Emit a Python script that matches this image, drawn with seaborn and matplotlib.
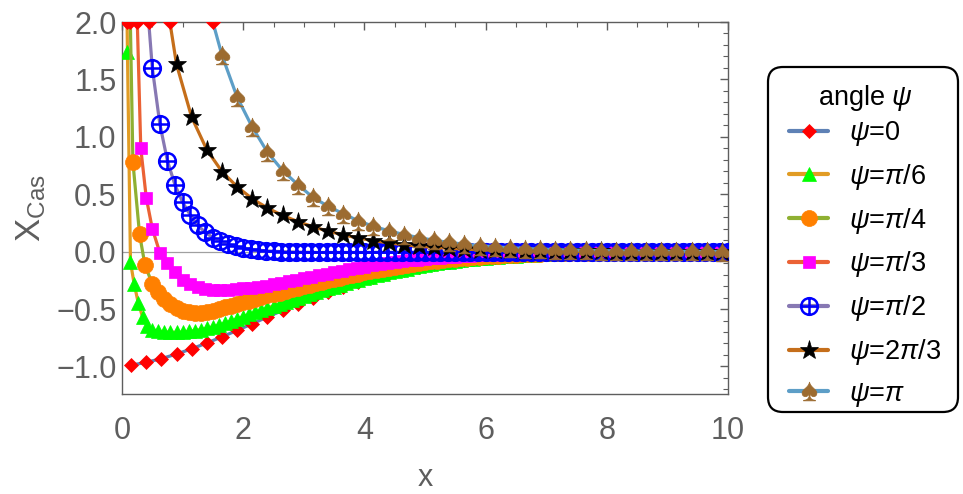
import numpy as np
import pandas as pd
import matplotlib
matplotlib.use("Agg")
import matplotlib.pyplot as plt
from matplotlib.path import Path
from matplotlib.lines import Line2D
from matplotlib.patches import FancyBboxPatch
import seaborn as sns

# ---------------- data ----------------
X_COARSE = [0.15, 0.40, 0.65, 0.90, 1.15, 1.40, 1.65, 1.90, 2.15, 2.40,
            2.65, 2.90, 3.15, 3.40, 3.65, 3.90, 4.15, 4.40, 4.65, 4.90,
            5.15, 5.40, 5.65, 5.90, 6.15, 6.40, 6.65, 6.90, 7.15, 7.40,
            7.65, 7.90, 8.15, 8.40, 8.65, 8.90, 9.15, 9.40, 9.65, 9.90]

X_MED = [0.5, 0.625, 0.75, 0.875,
         1.0, 1.125, 1.25, 1.375, 1.5, 1.625, 1.75, 1.875,
         2.0, 2.125, 2.25, 2.375, 2.5, 2.625, 2.75, 2.875,
         3.0, 3.125, 3.25, 3.375, 3.5, 3.625, 3.75, 3.875,
         4.0, 4.125, 4.25, 4.375, 4.5, 4.625, 4.75, 4.875,
         5.0, 5.125, 5.25, 5.375, 5.5, 5.625, 5.75, 5.875,
         6.0, 6.125, 6.25, 6.375, 6.5, 6.625, 6.75, 6.875,
         7.0, 7.125, 7.25, 7.375, 7.5, 7.625, 7.75, 7.875,
         8.0, 8.125, 8.25, 8.375, 8.5, 8.625, 8.75, 8.875,
         9.0, 9.125, 9.25, 9.375, 9.5, 9.625, 9.75, 9.875,
         10.0]

X_FINE = [0.5, 0.6, 0.7, 0.8, 0.9,
          1.0, 1.1, 1.2, 1.3, 1.4, 1.5, 1.6, 1.7, 1.8, 1.9,
          2.0, 2.1, 2.2, 2.3, 2.4, 2.5, 2.6, 2.7, 2.8, 2.9,
          3.0, 3.1, 3.2, 3.3, 3.4, 3.5, 3.6, 3.7, 3.8, 3.9,
          4.0, 4.1, 4.2, 4.3, 4.4, 4.5, 4.6, 4.7, 4.8, 4.9,
          5.0, 5.1, 5.2, 5.3, 5.4, 5.5, 5.6, 5.7, 5.8, 5.9,
          6.0, 6.1, 6.2, 6.3, 6.4, 6.5, 6.6, 6.7, 6.8, 6.9,
          7.0, 7.1, 7.2, 7.3, 7.4, 7.5, 7.6, 7.7, 7.8, 7.9,
          8.0, 8.1, 8.2, 8.3, 8.4, 8.5, 8.6, 8.7, 8.8, 8.9,
          9.0, 9.1, 9.2, 9.3, 9.4, 9.5, 9.6, 9.7, 9.8, 9.9,
          10.0]

# psi = 0  (on X_COARSE)
Y_PSI_0 = [-0.989, -0.964, -0.932, -0.892, -0.846, -0.796, -0.742, -0.686, -0.628, -0.569,
           -0.512, -0.456, -0.403, -0.353, -0.306, -0.263, -0.224, -0.190, -0.159, -0.132,
           -0.108, -0.088, -0.071, -0.057, -0.045, -0.036, -0.028, -0.021, -0.016, -0.012,
           -0.009, -0.007, -0.005, -0.004, -0.003, -0.002, -0.001, -0.001, -0.001, 0.0]

# psi = pi/6  (head points, then X_FINE)
X_PSI_PI6_HEAD = [0.07, 0.09, 0.14, 0.20, 0.27, 0.34, 0.42]
Y_PSI_PI6_HEAD = [2.60, 1.74, -0.09, -0.28, -0.45, -0.57, -0.645]
Y_PSI_PI6 = [-0.680, -0.692, -0.699, -0.702, -0.702,
             -0.700, -0.695, -0.688, -0.679, -0.668, -0.655, -0.640, -0.623, -0.604, -0.585,
             -0.566, -0.547, -0.528, -0.509, -0.490, -0.473, -0.456, -0.439, -0.422, -0.405,
             -0.388, -0.371, -0.354, -0.337, -0.320, -0.305, -0.290, -0.274, -0.259, -0.245,
             -0.231, -0.218, -0.205, -0.192, -0.180, -0.169, -0.158, -0.147, -0.137, -0.127,
             -0.118, -0.109, -0.101, -0.094, -0.087, -0.080, -0.074, -0.068, -0.063, -0.058,
             -0.053, -0.049, -0.045, -0.041, -0.037, -0.034, -0.031, -0.028, -0.025, -0.023,
             -0.021, -0.019, -0.017, -0.015, -0.014, -0.012, -0.011, -0.010, -0.009, -0.008,
             -0.007, -0.006, -0.006, -0.005, -0.005, -0.004, -0.004, -0.003, -0.003, -0.003,
             -0.002, -0.002, -0.002, -0.002, -0.001, -0.001, -0.001, -0.001, -0.001, -0.001,
             -0.001]

# psi = pi/4  (head points, then X_FINE)
X_PSI_PI4_HEAD = [0.11, 0.18, 0.29, 0.38]
Y_PSI_PI4_HEAD = [2.80, 0.78, 0.15, -0.12]
Y_PSI_PI4 = [-0.280, -0.355, -0.410, -0.455, -0.490,
             -0.513, -0.528, -0.535, -0.535, -0.528, -0.516, -0.502, -0.486, -0.471, -0.456,
             -0.441, -0.427, -0.412, -0.397, -0.382, -0.369, -0.356, -0.342, -0.329, -0.316,
             -0.303, -0.289, -0.276, -0.263, -0.250, -0.238, -0.226, -0.214, -0.202, -0.191,
             -0.180, -0.170, -0.160, -0.150, -0.140, -0.132, -0.123, -0.115, -0.107, -0.099,
             -0.092, -0.085, -0.079, -0.073, -0.068, -0.062, -0.058, -0.053, -0.049, -0.045,
             -0.041, -0.038, -0.035, -0.032, -0.029, -0.027, -0.024, -0.022, -0.020, -0.018,
             -0.016, -0.015, -0.013, -0.012, -0.011, -0.009, -0.009, -0.008, -0.007, -0.006,
             -0.005, -0.005, -0.005, -0.004, -0.004, -0.003, -0.003, -0.002, -0.002, -0.002,
             -0.002, -0.002, -0.002, -0.002, -0.001, -0.001, -0.001, -0.001, -0.001, -0.001,
             -0.001]

# psi = pi/3  (head points, then X_MED)
X_PSI_PI3_HEAD = [0.20, 0.31, 0.40]
Y_PSI_PI3_HEAD = [3.00, 0.90, 0.47]
Y_PSI_PI3 = [0.200, -0.010, -0.100, -0.180,
             -0.245, -0.285, -0.310, -0.323, -0.330, -0.333, -0.332, -0.327,
             -0.320, -0.313, -0.305, -0.295, -0.284, -0.272, -0.259, -0.246,
             -0.232, -0.219, -0.205, -0.192, -0.179, -0.166, -0.154, -0.142,
             -0.131, -0.120, -0.110, -0.101, -0.092, -0.084, -0.077, -0.070,
             -0.064, -0.058, -0.053, -0.048, -0.043, -0.039, -0.035, -0.032,
             -0.029, -0.026, -0.023, -0.021, -0.019, -0.017, -0.015, -0.013,
             -0.012, -0.011, -0.010, -0.009, -0.008, -0.007, -0.006, -0.006,
             -0.005, -0.005, -0.004, -0.004, -0.003, -0.003, -0.003, -0.002,
             -0.002, -0.002, -0.002, -0.001, -0.001, -0.001, -0.001, -0.001,
             -0.001]

# psi = pi/2  (head point, then X_MED)
X_PSI_PI2_HEAD = [0.375]
Y_PSI_PI2_HEAD = [2.45]
Y_PSI_PI2 = [1.600, 1.110, 0.790, 0.580,
             0.430, 0.320, 0.228, 0.168, 0.122, 0.089, 0.064, 0.045,
             0.031, 0.021, 0.013, 0.007, 0.003, 0.000, -0.002, -0.004,
             -0.005, -0.006, -0.007, -0.007, -0.007, -0.007, -0.007, -0.007,
             -0.007, -0.006, -0.006, -0.006, -0.005, -0.005, -0.005, -0.004,
             -0.004, -0.004, -0.003, -0.003, -0.003, -0.003, -0.002, -0.002,
             -0.002, -0.002, -0.002, -0.002, -0.001, -0.001, -0.001, -0.001,
             -0.001, -0.001, -0.001, -0.001, -0.001, -0.001, -0.001, -0.001,
             -0.001, 0.0, 0.0, 0.0, 0.0, 0.0, 0.0, 0.0,
             0.0, 0.0, 0.0, 0.0, 0.0, 0.0, 0.0, 0.0,
             0.0]

# psi = 2pi/3  (head point, then X_COARSE from 0.90)
X_PSI_2PI3_HEAD = [0.65]
Y_PSI_2PI3_HEAD = [2.47]
Y_PSI_2PI3 = [1.630, 1.170, 0.887, 0.697, 0.565,
              0.460, 0.380, 0.315, 0.262, 0.217, 0.178, 0.146, 0.118,
              0.095, 0.076, 0.060, 0.047, 0.037, 0.029, 0.022, 0.017,
              0.013, 0.010, 0.008, 0.006, 0.004, 0.003, 0.002, 0.002,
              0.001, 0.001, 0.001, 0.0, 0.0, 0.0, 0.0, 0.0]

# psi = pi  (head point, then X_COARSE from 1.65)
X_PSI_PI_HEAD = [1.40]
Y_PSI_PI_HEAD = [2.19]
Y_PSI_PI = [1.710, 1.345, 1.084, 0.866, 0.706, 0.584, 0.473, 0.395, 0.330, 0.268,
            0.220, 0.182, 0.149, 0.122, 0.099, 0.080, 0.065, 0.052, 0.042, 0.034,
            0.027, 0.022, 0.018, 0.014, 0.011, 0.009, 0.007, 0.006, 0.005, 0.004,
            0.003, 0.002, 0.002, 0.001]

# points where the curves leave the plot range at the top
X_TOP_EXIT = [0.08, 0.14, 0.25, 0.44, 0.79, 1.50]
Y_TOP_EXIT = [2.0, 2.0, 2.0, 2.0, 2.0, 2.0]

LABELS = [r"$\psi$=0", r"$\psi$=$\pi$/6", r"$\psi$=$\pi$/4", r"$\psi$=$\pi$/3",
          r"$\psi$=$\pi$/2", r"$\psi$=2$\pi$/3", r"$\psi$=$\pi$"]
LINE_COLORS = ["#5E81B5", "#E19C24", "#8FB032", "#EB6235", "#8778B3", "#C56E1A", "#5D9EC7"]
MARK_COLORS = ["#FF0000", "#00FF00", "#FF8000", "#FF00FF", "#0000FF", "#000000", "#9C6B30"]

# ---------------- style ----------------
sns.set_theme(style="white")
plt.rcParams['font.family'] = ['Liberation Sans', 'DejaVu Sans']
plt.rcParams['mathtext.fontset'] = 'custom'
plt.rcParams['mathtext.rm'] = 'Liberation Sans'
plt.rcParams['mathtext.it'] = 'Liberation Sans:italic'
plt.rcParams['mathtext.bf'] = 'Liberation Sans:bold'
plt.rcParams['axes.unicode_minus'] = True

GRAY = "#5e5e5e"

# circle-plus marker
_c = Path.unit_circle()
OPLUS = Path(np.concatenate([_c.vertices, [[-1, 0], [1, 0], [0, -1], [0, 1]]]),
             np.concatenate([_c.codes, [Path.MOVETO, Path.LINETO, Path.MOVETO, Path.LINETO]]))

MARKERS = ["D", "^", "o", "s", OPLUS, "*", r"$\spadesuit$"]
MSIZES = [7.6, 9.5, 11.5, 8.0, 12.0, 14.0, 13.5]

def build(xh, yh, xt, yt):
    n = min(len(xt), len(yt))
    return list(xh) + list(xt[:n]), list(yh) + list(yt[:n])

SERIES = [
    build([], [], X_COARSE, Y_PSI_0),
    build(X_PSI_PI6_HEAD, Y_PSI_PI6_HEAD, X_FINE, Y_PSI_PI6),
    build(X_PSI_PI4_HEAD, Y_PSI_PI4_HEAD, X_FINE, Y_PSI_PI4),
    build(X_PSI_PI3_HEAD, Y_PSI_PI3_HEAD, X_MED, Y_PSI_PI3),
    build(X_PSI_PI2_HEAD, Y_PSI_PI2_HEAD, X_MED, Y_PSI_PI2),
    build(X_PSI_2PI3_HEAD, Y_PSI_2PI3_HEAD, X_COARSE[3:], Y_PSI_2PI3),
    build(X_PSI_PI_HEAD, Y_PSI_PI_HEAD, X_COARSE[6:], Y_PSI_PI),
]

W, H = 963, 494
fig = plt.figure(figsize=(W / 100, H / 100), dpi=100)
ax = fig.add_axes([122 / W, 1 - 394 / H, (728 - 122) / W, (394 - 22) / H])

ax.axhline(0, color="#a0a0a0", lw=0.9, zorder=0.5)

handles = []
for i, ((xs, ys), lab) in enumerate(zip(SERIES, LABELS)):
    df = pd.DataFrame({"x": xs, "y": ys})
    sns.lineplot(data=df, x="x", y="y", ax=ax, sort=False, estimator=None,
                 color=LINE_COLORS[i], lw=2.3, zorder=2 + 2 * i)
    filled = MARKERS[i] is not OPLUS
    ax.plot(xs, ys, ls="none", marker=MARKERS[i], ms=MSIZES[i],
            mfc=MARK_COLORS[i] if filled else "none", mec=MARK_COLORS[i],
            mew=1.8 if not filled else 0.5, zorder=3 + 2 * i)
    handles.append(Line2D([0], [0], color=LINE_COLORS[i], lw=3.0,
                          marker=MARKERS[i], ms=MSIZES[i],
                          mfc=MARK_COLORS[i] if filled else "none",
                          mec=MARK_COLORS[i], mew=1.8 if not filled else 0.5,
                          label=lab))

ax.plot(X_TOP_EXIT, Y_TOP_EXIT, ls="none", marker="D", ms=7.6, mfc="#FF0000",
        mec="#FF0000", mew=0.5, zorder=20)

ax.set_xlim(0, 10)
ax.set_ylim(-1.24, 2.0)
ax.set_xticks([0, 2, 4, 6, 8, 10])
ax.set_xticks(np.arange(0, 10.01, 0.5), minor=True)
ax.set_yticks([-1.0, -0.5, 0.0, 0.5, 1.0, 1.5, 2.0])
ax.set_yticks(np.arange(-1.2, 2.001, 0.1), minor=True)
ax.set_yticklabels(["\u22121.0", "\u22120.5", "0.0", "0.5", "1.0", "1.5", "2.0"])
ax.set_xticklabels(["0", "2", "4", "6", "8", "10"])

for s in ax.spines.values():
    s.set_color(GRAY)
    s.set_linewidth(1.0)
ax.tick_params(which="both", direction="in", top=True, right=True, colors=GRAY,
               labelsize=22, labelcolor=GRAY)
ax.tick_params(which="major", length=6, width=1.0)
ax.tick_params(which="minor", length=3.5, width=0.8)
ax.tick_params(axis="x", which="major", pad=16)
ax.tick_params(axis="y", which="major", pad=4)

ax.set_xlabel("x", fontsize=22, color=GRAY, labelpad=12)
ax.set_ylabel(r"X$_{\mathregular{Cas}}$", fontsize=25, color=GRAY, labelpad=6)

# legend: frame, title and entries
frame = FancyBboxPatch((768 / 100, (H - 412) / 100), 190 / 100, 345 / 100,
                       boxstyle="round,pad=0,rounding_size=0.15",
                       transform=fig.dpi_scale_trans, fc="white", ec="black",
                       lw=1.6, zorder=5)
fig.add_artist(frame)
fig.text(865 / W, 1 - 98 / H, r"angle $\psi$", fontsize=19.5, color="black",
         ha="center", va="center", zorder=6)
leg = fig.legend(handles=handles, loc="upper left",
                 bbox_to_anchor=(789 / W, 1 - 119 / H), bbox_transform=fig.transFigure,
                 fontsize=19.5, frameon=False, labelspacing=0.51, handlelength=1.45,
                 handletextpad=0.75, borderpad=0.0, borderaxespad=0.0)
leg.set_zorder(7)
for t in leg.get_texts():
    t.set_color("black")

fig.savefig("out.png", dpi=100)
